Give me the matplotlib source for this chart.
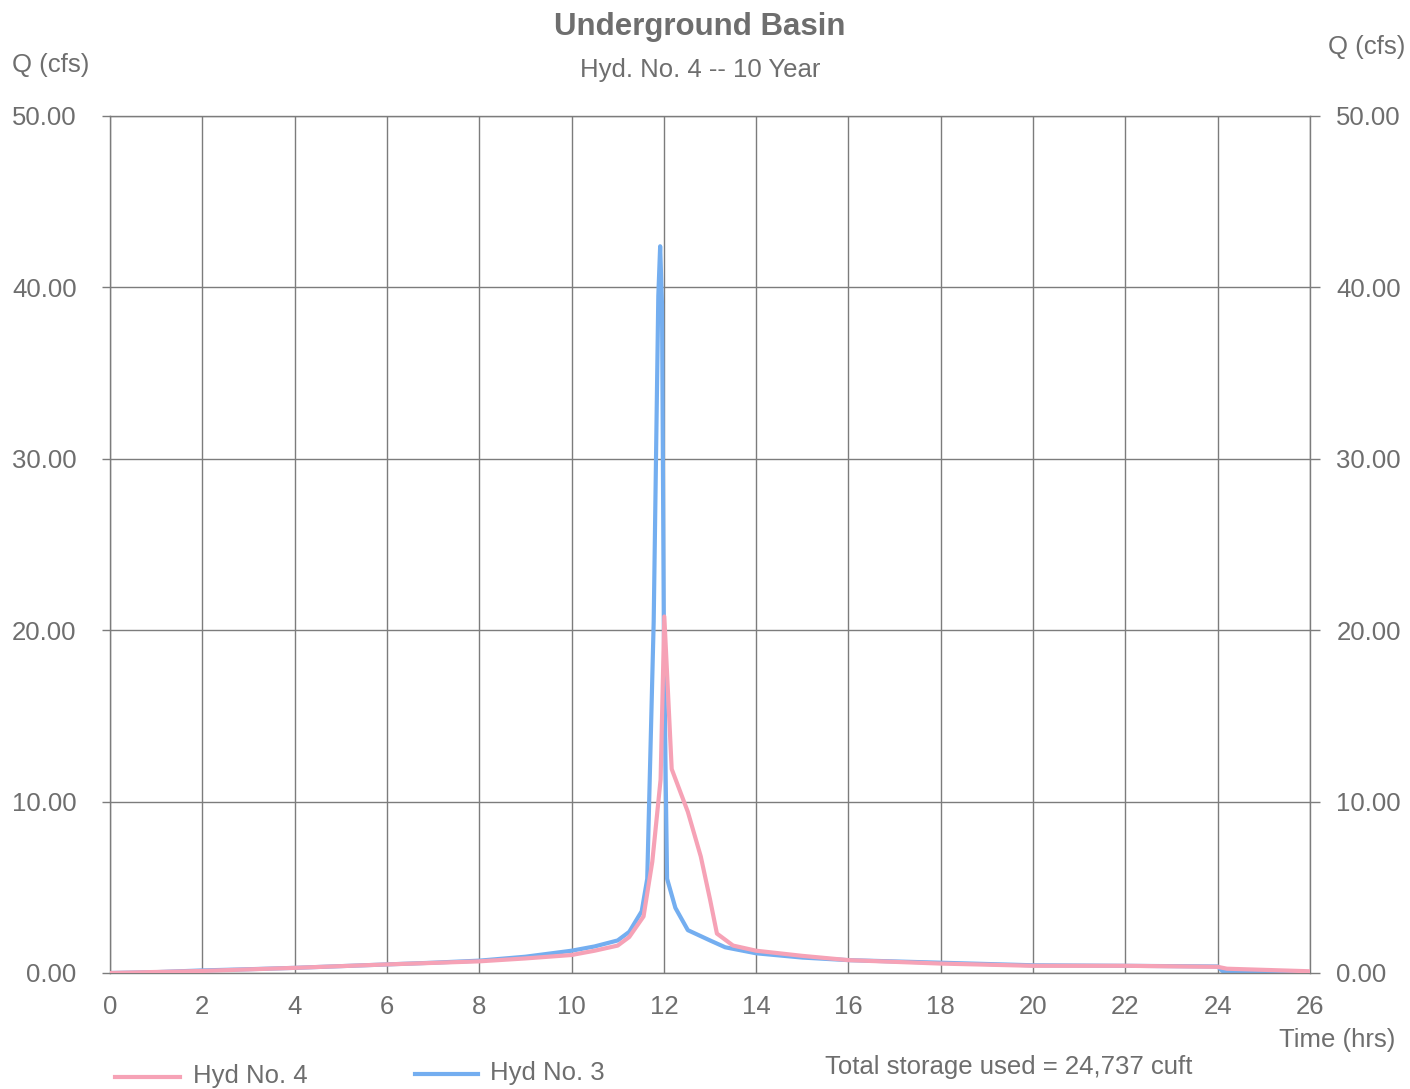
import matplotlib
matplotlib.use("Agg")
import matplotlib.pyplot as plt
from matplotlib.lines import Line2D

plt.rcParams['font.family'] = ['Liberation Sans', 'DejaVu Sans']

# Hydrograph data (time in hours, flow in cfs)
hyd3_time = [0, 1, 2, 3, 4, 5, 6, 7, 8, 9, 10, 10.5, 11, 11.25, 11.52, 11.64,
             11.78, 11.88, 11.92, 11.96, 12.0, 12.04, 12.07, 12.25, 12.52,
             13.0, 13.33, 14, 15, 16, 18, 20, 22, 24, 24.1, 25, 26]
hyd3_flow = [0, 0.05, 0.15, 0.22, 0.3, 0.4, 0.5, 0.6, 0.72, 0.95, 1.3, 1.55,
             1.9, 2.4, 3.6, 5.5, 20.5, 39.5, 42.4, 39.0, 20.0, 11.3, 5.5,
             3.8, 2.5, 1.9, 1.5, 1.15, 0.9, 0.75, 0.6, 0.45, 0.42, 0.38,
             0.12, 0.08, 0.05]

hyd4_time = [0, 2, 4, 6, 8, 9, 10, 10.5, 11, 11.25, 11.56, 11.75, 11.93,
             12.01, 12.17, 12.52, 12.8, 13.0, 13.15, 13.5, 14, 15, 16, 18,
             20, 22, 24, 24.2, 26]
hyd4_flow = [0, 0.12, 0.3, 0.5, 0.68, 0.85, 1.05, 1.3, 1.6, 2.1, 3.3, 6.5,
             11.3, 20.8, 11.9, 9.4, 6.8, 4.3, 2.3, 1.6, 1.3, 1.0, 0.75, 0.55,
             0.42, 0.42, 0.36, 0.25, 0.1]

x_ticks = list(range(0, 27, 2))
y_ticks = [0, 10, 20, 30, 40, 50]
y_tick_labels = [f"{v:.2f}" for v in y_ticks]

title = "Underground Basin"
subtitle = "Hyd. No. 4 -- 10 Year"
storage_note = "Total storage used = 24,737 cuft"

text_color = "#6e6e6e"
grid_color = "#7c7c7c"
pink = "#f6a2b6"
blue = "#74aef0"
fs = 18.5

W, H = 1410, 1089
fig = plt.figure(figsize=(W / 100, H / 100), dpi=100)
fig.patch.set_facecolor("white")

left_px, right_px, top_px, bottom_px = 110, 1310, 116, 973
ax = fig.add_axes([left_px / W, 1 - bottom_px / H,
                   (right_px - left_px) / W, (bottom_px - top_px) / H])

ax.plot(hyd4_time, hyd4_flow, color=pink, lw=3.0, solid_joinstyle="round", zorder=3)
ax.plot(hyd3_time, hyd3_flow, color=blue, lw=3.0, solid_joinstyle="round", zorder=2)

ax.set_xlim(0, 26)
ax.set_ylim(0, 50)
ax.set_xticks(x_ticks)
ax.set_yticks(y_ticks)
ax.set_yticklabels(y_tick_labels)
ax.grid(True, color=grid_color, lw=1.0)
ax.set_axisbelow(True)
for s in ax.spines.values():
    s.set_color(grid_color)
    s.set_linewidth(1.0)

ax.tick_params(axis="x", length=0, pad=16, labelsize=fs, labelcolor=text_color)
ax.tick_params(axis="y", length=6, width=1.0, color=grid_color, pad=18,
               labelsize=fs, labelcolor=text_color)

ax2 = ax.twinx()
ax2.set_ylim(0, 50)
ax2.set_yticks(y_ticks)
ax2.set_yticklabels(y_tick_labels)
ax2.tick_params(axis="y", length=7, width=1.0, color=grid_color, pad=12,
                labelsize=fs, labelcolor=text_color)
for s in ax2.spines.values():
    s.set_visible(False)

# Titles and axis captions
fig.text(700 / W, 1 - 27 / H, title, ha="center", va="center",
         fontsize=22.5, fontweight="bold", color=text_color)
fig.text(700 / W, 1 - 70 / H, subtitle, ha="center", va="center",
         fontsize=18.5, color=text_color)
fig.text(12 / W, 1 - 65 / H, "Q (cfs)", ha="left", va="center",
         fontsize=fs, color=text_color)
fig.text(1405 / W, 1 - 47 / H, "Q (cfs)", ha="right", va="center",
         fontsize=fs, color=text_color)
fig.text(1395 / W, 1 - 1040 / H, "Time (hrs)", ha="right", va="center",
         fontsize=fs, color=text_color)

# Legend row along the bottom
fig.add_artist(Line2D([115 / W, 180 / W], [1 - 1077 / H, 1 - 1077 / H],
                      color=pink, lw=3.0, transform=fig.transFigure))
fig.text(193 / W, 1 - 1076 / H, "Hyd No. 4", ha="left", va="center",
         fontsize=fs, color=text_color)
fig.add_artist(Line2D([415 / W, 478 / W], [1 - 1074 / H, 1 - 1074 / H],
                      color=blue, lw=3.0, transform=fig.transFigure))
fig.text(490 / W, 1 - 1073 / H, "Hyd No. 3", ha="left", va="center",
         fontsize=fs, color=text_color)
fig.text(825 / W, 1 - 1067 / H, storage_note, ha="left", va="center",
         fontsize=fs, color=text_color)

fig.savefig("out.png", dpi=100, facecolor="white")
